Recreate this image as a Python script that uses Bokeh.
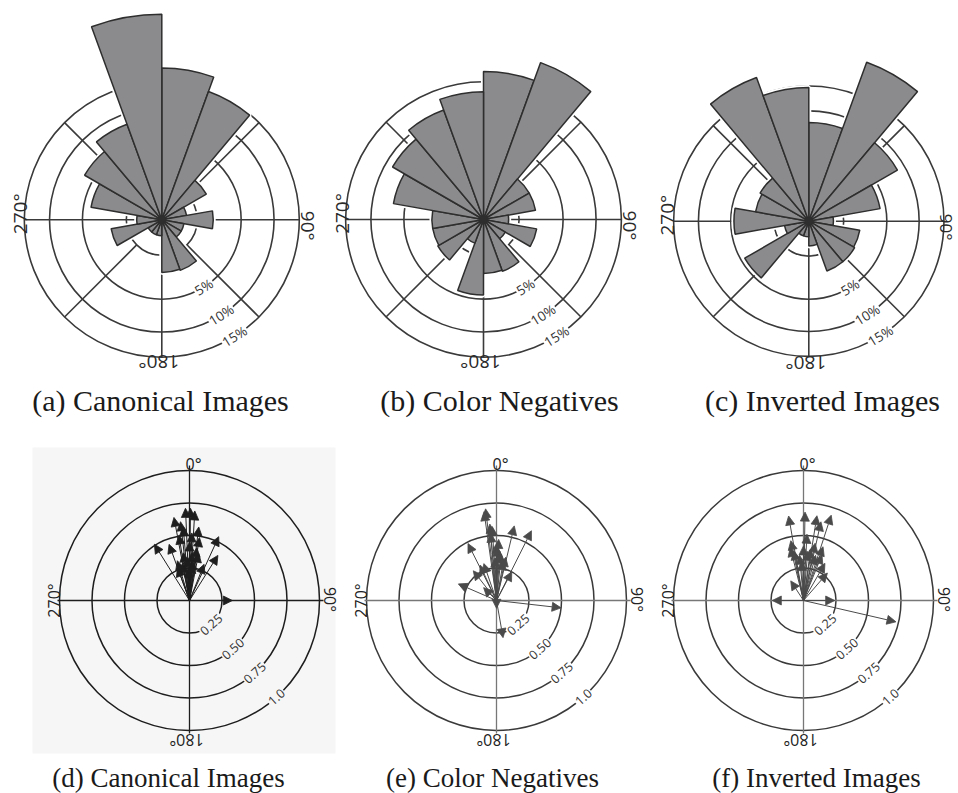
import numpy as np
from bokeh.plotting import figure
from bokeh.models import Range1d, Arrow, NormalHead, ColumnDataSource
from bokeh.core.properties import value
from bokeh.embed import file_html
from bokeh.resources import INLINE

# ---------------- data ----------------
BIN_START = [0, 20, 40, 60, 80, 100, 120, 140, 160, 180, 200, 220, 240, 260, 280, 300, 320, 340]
BIN_WIDTH = 20
ROSE_CANONICAL = [18.3, 14.8, 2.1, 0.5, 2.1, 0.4, 0.4, 2.3, 2.2, 0.2, 0.2, 0.2, 2.1, 0.5, 4.1, 6.3, 8.2, 33.5]
ROSE_NEGATIVE = [17.3, 22.0, 2.2, 2.2, 0.5, 2.3, 0.5, 2.4, 2.3, 4.5, 0.5, 2.2, 2.1, 2.1, 6.6, 8.7, 10.7, 12.9]
ROSE_INVERTED = [8.0, 23.5, 8.6, 4.3, 0.5, 2.2, 2.3, 2.3, 0.5, 0.2, 0.2, 4.5, 0.5, 4.6, 2.4, 2.6, 19.2, 14.7]
ROSE_RINGS = [1, 5, 10, 15]
ROSE_RING_LABELS = ["5%", "10%", "15%"]

VEC_RINGS = [0.25, 0.5, 0.75, 1.0]
VEC_RING_LABELS = ["0.25", "0.50", "0.75", "1.0"]

CANON_ANG = [-2.5, 0.6, 3.4, -10.6, -4.9, 7.2, 9, -20, -32, 24.6, 32.2, 22, -11, 8, 3, -3, 11, -20, 5, -7.5, 90,
             -6.5, -9.2, -17, 0, 2, -1, 4]
CANON_LEN = [0.71, 0.71, 0.69, 0.65, 0.57, 0.57, 0.49, 0.46, 0.51, 0.54, 0.41, 0.30, 0.29, 0.41, 0.37, 0.33, 0.37, 0.27, 0.31, 0.37, 0.33,
             0.61, 0.51, 0.32, 0.45, 0.52, 0.25, 0.28]
NEG_ANG = [-6.8, -8, -5, -3.3, -5, 13.4, 26.6, -26.6, 0, 1, 6, -19, -25, -38, -66.5, 28, 10, 12, -45, 96.5, 170, 180, 2, 4, -2]
NEG_LEN = [0.71, 0.69, 0.59, 0.57, 0.52, 0.59, 0.60, 0.49, 0.43, 0.41, 0.36, 0.30, 0.30, 0.29, 0.32, 0.25, 0.31, 0.34, 0.14, 0.50, 0.29, 0.06, 0.47, 0.38, 0.33]
INV_ANG = [-10, 1, 9, 12.5, 18, -12, -14, -11, 3, 11.5, 20, 30, 41, -33, 270, 90, 103, 0, 5, -5, 8, 15, -3, 22]
INV_LEN = [0.66, 0.68, 0.66, 0.62, 0.69, 0.47, 0.42, 0.39, 0.51, 0.45, 0.44, 0.33, 0.28, 0.18, 0.24, 0.24, 0.73, 0.42, 0.38, 0.35, 0.40, 0.36, 0.30, 0.38]

DEG_LABELS = ["0°", "90°", "180°", "270°"]
CAPTIONS_TOP = ["(a) Canonical Images", "(b) Color Negatives", "(c) Inverted Images"]
CAPTIONS_BOTTOM = ["(d) Canonical Images", "(e) Color Negatives", "(f) Inverted Images"]

# ---------------- layout / style ----------------
IMG_W, IMG_H = 958, 793
BAR_C = "#8b8b8d"
EDGE_C = "#2e2e2e"
RING_C = "#3a3a3a"
SANS = value("Open Sans")
SERIF = value("Liberation Serif")

p = figure(width=IMG_W, height=IMG_H, x_range=Range1d(0, IMG_W), y_range=Range1d(0, IMG_H),
           output_backend="svg", toolbar_location=None, min_border=0,
           x_axis_type=None, y_axis_type=None)
p.grid.visible = False
p.outline_line_color = None
p.background_fill_color = "white"
p.border_fill_color = "white"


def Y(y):
    return IMG_H - y


def draw_rose(cx, cy_img, vals, k, right_x, right_size):
    cy = Y(cy_img)
    radii = k * np.sqrt(np.array(ROSE_RINGS, dtype=float))
    R = radii[-1]
    p.circle(x=[cx] * len(radii), y=[cy] * len(radii), radius=radii, fill_color=None,
             line_color=RING_C, line_width=1.6)
    p.segment(x0=[cx - R, cx], y0=[cy, cy - R], x1=[cx + R, cx], y1=[cy, cy + R],
              line_color=RING_C, line_width=1.6)
    d = np.radians([45, 135, 225, 315])
    p.segment(x0=cx + radii[0] * np.sin(d), y0=cy + radii[0] * np.cos(d),
              x1=cx + R * np.sin(d), y1=cy + R * np.cos(d), line_color=RING_C, line_width=1.6)
    la = np.radians(148)
    lr = radii[1:]
    p.text(x=cx + lr * np.sin(la), y=cy + lr * np.cos(la), text=ROSE_RING_LABELS,
           angle=np.radians(90 - 148 + 90), text_font=SANS, text_font_size="13.5px",
           text_color="#333333", text_align="center", text_baseline="middle",
           background_fill_color="white", padding=1)
    st = np.radians(90 - np.array(BIN_START) - BIN_WIDTH)
    en = np.radians(90 - np.array(BIN_START))
    r = k * np.sqrt(np.array(vals, dtype=float))
    n = len(r)
    p.wedge(x=[cx] * n, y=[cy] * n, radius=r, start_angle=st, end_angle=en,
            fill_color="white", line_color="white", line_width=5)
    p.wedge(x=[cx] * n, y=[cy] * n, radius=r, start_angle=st, end_angle=en,
            fill_color=BAR_C, line_color=EDGE_C, line_width=1.5)
    p.scatter([cx], [cy], size=7, color=EDGE_C)
    p.text(x=[cx - 142, cx - 3], y=[cy + 6, cy - 142],
           text=[DEG_LABELS[3], DEG_LABELS[2]],
           angle=[np.pi / 2, np.pi], text_font=SANS, text_font_size="19px",
           text_color="#2a2a2a", text_align="center", text_baseline="middle")
    p.text(x=[right_x], y=[cy - 6], text=[DEG_LABELS[1]], angle=[-np.pi / 2],
           text_font=SANS, text_font_size=right_size,
           text_color="#2a2a2a", text_align="center", text_baseline="middle")


def draw_vectors(cx, cy_img, angs, lens, color, axis_color, ring_color, bg):
    cy = Y(cy_img)
    S = 130.0
    radii = np.array(VEC_RINGS) * S
    R = radii[-1]
    p.circle(x=[cx] * len(radii), y=[cy] * len(radii), radius=radii, fill_color=None,
             line_color=ring_color, line_width=1.5)
    p.segment(x0=[cx - R - 2, cx], y0=[cy, cy - R - 3], x1=[cx + R + 4, cx], y1=[cy, cy + R + 5],
              line_color=axis_color, line_width=1.3)
    la = np.radians(138)
    p.text(x=cx + radii * np.sin(la), y=cy + radii * np.cos(la), text=VEC_RING_LABELS,
           angle=np.radians(90 - 138 + 90), text_font=SANS, text_font_size="12.5px",
           text_color="#333333", text_align="center", text_baseline="middle",
           background_fill_color=bg, padding=1)
    th = np.radians(np.array(angs, dtype=float))
    L = np.array(lens, dtype=float) * S
    n = len(L)
    src = ColumnDataSource(dict(x0=[cx] * n, y0=[cy] * n,
                                x1=cx + L * np.sin(th), y1=cy + L * np.cos(th)))
    p.add_layout(Arrow(end=NormalHead(size=9, fill_color=color, line_color=color, line_width=0.8),
                       x_start="x0", y_start="y0", x_end="x1", y_end="y1",
                       line_color=color, line_width=1.0, source=src))
    p.text(x=[cx + 4, cx - 136, cx + 140, cx - 3], y=[cy + 137, cy, cy + 1, cy - 139],
           text=[DEG_LABELS[0], DEG_LABELS[3], DEG_LABELS[1], DEG_LABELS[2]],
           angle=[0, np.pi / 2, -np.pi / 2, np.pi], text_font=SANS, text_font_size="16px",
           text_color="#222222", text_align="center", text_baseline="middle")


# light background of panel (d)
p.quad(left=32, right=335, bottom=Y(753), top=Y(447), fill_color="#f6f6f6", line_color=None)

draw_rose(161.3, 219.3, ROSE_CANONICAL, 35.5, 307, "19px")
draw_rose(483.0, 219.0, ROSE_NEGATIVE, 35.6, 629, "19px")
draw_rose(808.3, 220.7, ROSE_INVERTED, 34.9, 946, "17px")

draw_vectors(189, 600, CANON_ANG, CANON_LEN, "#1e1e1e", "#1e1e1e", "#1e1e1e", "#f6f6f6")
draw_vectors(496, 600, NEG_ANG, NEG_LEN, "#4a4a4a", "#777777", "#3a3a3a", "white")
draw_vectors(803, 600, INV_ANG, INV_LEN, "#4a4a4a", "#777777", "#3a3a3a", "white")

p.text(x=[160, 499, 822], y=[Y(400)] * 3, text=CAPTIONS_TOP, text_font=SERIF,
       text_font_size="30px", text_color="#1a1a1a", text_align="center", text_baseline="middle")
p.text(x=[168, 492, 816], y=[Y(777)] * 3, text=CAPTIONS_BOTTOM, text_font=SERIF,
       text_font_size="27px", text_color="#1a1a1a", text_align="center", text_baseline="middle")

open("out.html", "w").write(file_html(p, INLINE))
